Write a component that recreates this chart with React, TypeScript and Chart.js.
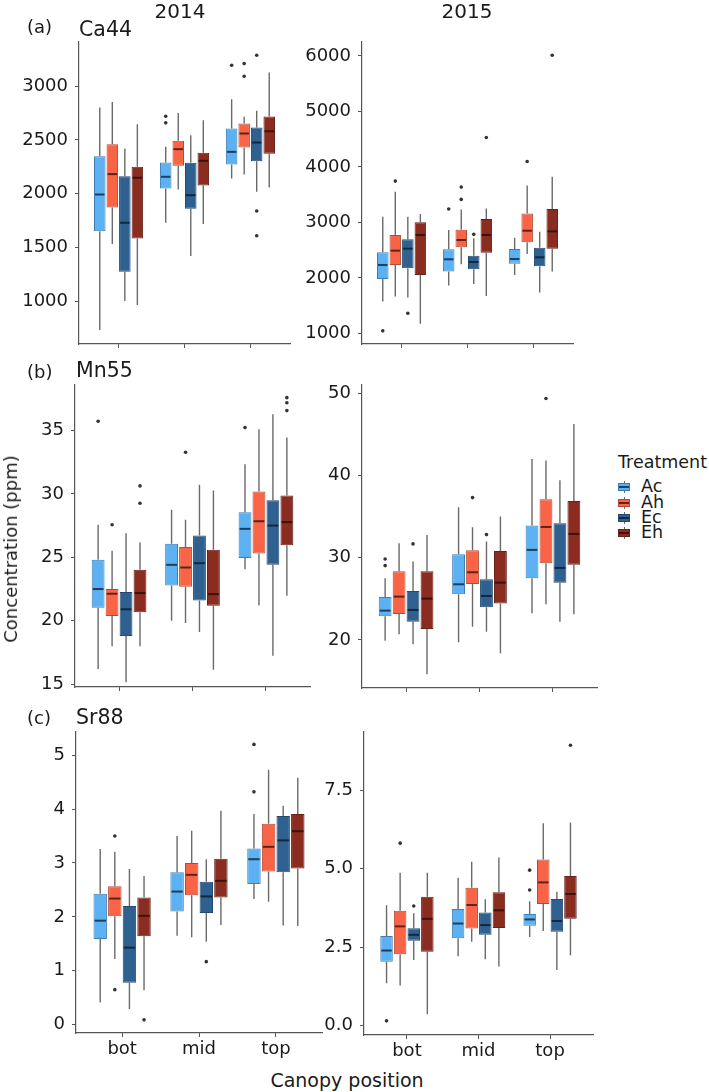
import React, { useEffect, useRef } from 'react';
import { Chart, registerables } from 'chart.js';

Chart.register(...registerables);

// ---------- categories ----------
const positions = ['bot', 'mid', 'top'];
const treatments = ['Ac', 'Ah', 'Ec', 'Eh'];

const fillColors = ['#5BB1F2', '#FA6446', '#2E6190', '#8B2C21'];
const borderColors = ['#3F7EB3', '#B24A37', '#234A6E', '#66211A'];
const medianColors = ['#1F3F5C', '#5E2419', '#12283D', '#3B120D'];

// ---------- Ca44 2014 (rows: Ac, Ah, Ec, Eh; cols: bot, mid, top) ----------
const ca14Low = [[731, 1729, 2141], [1531, 2039, 2179], [1000, 1419, 2017], [963, 1717, 2058]];
const ca14Q1 = [[1651, 2048, 2271], [1872, 2259, 2430], [1273, 1859, 2302], [1583, 2076, 2371]];
const ca14Med = [[1992, 2157, 2389], [2182, 2414, 2560], [1729, 1986, 2476], [2148, 2306, 2581]];
const ca14Q3 = [[2349, 2290, 2606], [2461, 2492, 2653], [2163, 2287, 2616], [2250, 2380, 2718]];
const ca14High = [[2802, 2436, 2879], [2854, 2752, 2715], [2420, 2544, 2771], [2647, 2684, 3127]];
const ca14Out = [[[], [2721, 2659], [3195]], [[], [], [3211, 3093]], [[], [], [3288, 1838, 1608]], [[], [], []]];

// ---------- Ca44 2015 ----------
const ca15Low = [[1572, 1860, 2052], [1662, 2244, 2430], [1644, 1890, 1734], [1170, 1674, 2112]];
const ca15Q1 = [[1980, 2112, 2256], [2232, 2550, 2640], [2172, 2154, 2208], [2052, 2454, 2526]];
const ca15Med = [[2232, 2334, 2340], [2490, 2682, 2850], [2526, 2286, 2370], [2772, 2772, 2838]];
const ca15Q3 = [[2460, 2514, 2520], [2772, 2868, 3162], [2694, 2400, 2544], [3000, 3060, 3240]];
const ca15High = [[3102, 2862, 2724], [3552, 3234, 3666], [3102, 2712, 2832], [3150, 3252, 3822]];
const ca15Out = [[[1044], [3240], []], [[3744], [3636, 3414], [4098]], [[1362], [2784], []], [[], [4530], [6012]]];

// ---------- Mn55 2014 ----------
const mn14Low = [[16.19, 20.0, 24.07], [17.98, 19.82, 21.21], [15.14, 19.11, 17.24], [17.98, 16.14, 21.97]];
const mn14Q1 = [[21.02, 22.78, 24.94], [20.37, 22.68, 25.31], [18.79, 21.6, 24.41], [20.66, 21.18, 25.96]];
const mn14Med = [[22.5, 24.41, 27.25], [22.13, 24.2, 27.85], [20.9, 24.54, 27.51], [22.18, 22.1, 27.78]];
const mn14Q3 = [[24.81, 26.07, 28.56], [22.5, 25.81, 30.19], [22.26, 26.72, 29.51], [24.02, 25.6, 29.88]];
const mn14High = [[27.57, 28.75, 32.35], [25.52, 27.96, 35.1], [26.91, 30.72, 36.29], [26.17, 30.27, 34.45]];
const mn14Out = [[[35.74], [], [35.24]], [[27.57], [33.29], []], [[], [], []], [[30.64, 29.27], [], [37.6, 37.2, 36.58]]];

// ---------- Mn55 2015 ----------
const mn15Low = [[19.92, 19.72, 23.24], [20.69, 21.62, 24.34], [19.47, 21.01, 22.23], [15.83, 18.38, 23.12]];
const mn15Q1 = [[22.88, 25.55, 27.5], [23.16, 26.81, 29.32], [22.23, 23.97, 26.97], [21.34, 24.42, 29.16]];
const mn15Med = [[23.57, 26.77, 30.95], [25.27, 28.23, 33.74], [23.65, 25.35, 28.76], [25.03, 26.97, 32.89]];
const mn15Q3 = [[25.23, 30.42, 33.91], [28.35, 30.91, 37.11], [25.96, 27.38, 34.19], [28.35, 30.83, 36.91]];
const mn15High = [[27.5, 36.14, 42.01], [31.76, 33.7, 41.81], [29.53, 31.96, 39.42], [32.77, 35.0, 46.27]];
const mn15Out = [[[29.85, 29.04], [], []], [[], [37.31], [49.35]], [[31.68], [32.81], []], [[], [], []]];

// ---------- Sr88 2014 ----------
const sr14Low = [[0.41, 1.65, 2.33], [1.22, 1.62, 2.28], [0.29, 1.54, 1.84], [0.64, 1.85, 1.83]];
const sr14Q1 = [[1.59, 2.1, 2.61], [2.01, 2.4, 2.84], [0.78, 2.07, 2.83], [1.64, 2.36, 2.9]];
const sr14Med = [[1.93, 2.47, 3.07], [2.34, 2.78, 3.3], [1.43, 2.38, 3.42], [2.02, 2.67, 3.59]];
const sr14Q3 = [[2.43, 2.83, 3.27], [2.57, 3.0, 3.73], [2.2, 2.65, 3.87], [2.36, 3.08, 3.91]];
const sr14High = [[3.26, 3.5, 3.91], [3.21, 3.6, 4.73], [2.89, 3.07, 4.06], [2.76, 3.97, 4.58]];
const sr14Out = [[[], [], [5.2, 4.32]], [[3.5, 0.65], [], []], [[], [1.17], []], [[0.09], [], []]];

// ---------- Sr88 2015 ----------
const sr15Low = [[1.35, 2.21, 2.82], [1.28, 2.67, 3.01], [2.09, 2.11, 1.77], [0.36, 1.88, 2.24]];
const sr15Q1 = [[2.03, 2.78, 3.18], [2.27, 3.09, 3.87], [2.7, 2.89, 2.99], [2.35, 3.11, 3.4]];
const sr15Med = [[2.39, 3.25, 3.38], [3.16, 3.84, 4.56], [2.89, 3.2, 3.33], [3.4, 3.67, 4.19]];
const sr15Q3 = [[2.85, 3.71, 3.55], [3.66, 4.39, 5.29], [3.1, 3.6, 4.03], [4.1, 4.25, 4.76]];
const sr15High = [[3.83, 4.71, 3.96], [4.87, 5.22, 6.44], [3.58, 4.02, 4.26], [4.87, 5.35, 6.47]];
const sr15Out = [[[0.15], [], [4.95, 4.32]], [[5.81], [], []], [[3.81], [], []], [[], [], [8.93]]];

// ---------- y tick labels ----------
const ca14Ticks = [1000, 1500, 2000, 2500, 3000];
const ca15Ticks = [1000, 2000, 3000, 4000, 5000, 6000];
const mn14Ticks = [15, 20, 25, 30, 35];
const mn15Ticks = [20, 30, 40, 50];
const sr14Ticks = [0, 1, 2, 3, 4, 5];
const sr15Ticks = [0, 2.5, 5, 7.5];

const FONT = "'DejaVu Sans', sans-serif";
const TEXT = '#1a1a1a';
const AXIS = '#555555';
const WHISKER = '#6a6a6a';
const OUTLIER = '#333333';

const YW = 72;
const XH = 30;
const PT = 24;
const PR = 4;

type Panel = {
  low: number[][]; q1: number[][]; med: number[][]; q3: number[][]; high: number[][]; out: number[][][];
  yMin: number; yMax: number; yTicks: number[]; decimals: number;
  left: number; right: number; top: number; bottom: number; showX: boolean;
};

const panels: Panel[] = [
  { low: ca14Low, q1: ca14Q1, med: ca14Med, q3: ca14Q3, high: ca14High, out: ca14Out, yMin: 600, yMax: 3412, yTicks: ca14Ticks, decimals: 0, left: 79, right: 290, top: 42, bottom: 344, showX: false },
  { low: ca15Low, q1: ca15Q1, med: ca15Med, q3: ca15Q3, high: ca15High, out: ca15Out, yMin: 807, yMax: 6252, yTicks: ca15Ticks, decimals: 0, left: 362, right: 573, top: 42, bottom: 344, showX: false },
  { low: mn14Low, q1: mn14Q1, med: mn14Med, q3: mn14Q3, high: mn14High, out: mn14Out, yMin: 14.77, yMax: 38.6, yTicks: mn14Ticks, decimals: 0, left: 75, right: 310, top: 385, bottom: 687, showX: false },
  { low: mn15Low, q1: mn15Q1, med: mn15Med, q3: mn15Q3, high: mn15High, out: mn15Out, yMin: 14.16, yMax: 51.0, yTicks: mn15Ticks, decimals: 0, left: 362, right: 597, top: 385, bottom: 688, showX: false },
  { low: sr14Low, q1: sr14Q1, med: sr14Med, q3: sr14Q3, high: sr14High, out: sr14Out, yMin: -0.154, yMax: 5.43, yTicks: sr14Ticks, decimals: 0, left: 76, right: 322, top: 732, bottom: 1033, showX: true },
  { low: sr15Low, q1: sr15Q1, med: sr15Med, q3: sr15Q3, high: sr15High, out: sr15Out, yMin: -0.3, yMax: 9.35, yTicks: sr15Ticks, decimals: 1, left: 364, right: 593, top: 732, bottom: 1035, showX: true },
];

function BoxPanel({ p }: { p: Panel }) {
  const ref = useRef<HTMLCanvasElement>(null);
  const W = YW + (p.right - p.left) + PR;
  const H = PT + (p.bottom - p.top) + XH;

  useEffect(() => {
    if (!ref.current) return;
    const extras = {
      id: 'boxExtras',
      beforeDatasetsDraw(chart: any) {
        const { ctx } = chart;
        const y = chart.scales.y;
        ctx.save();
        ctx.strokeStyle = WHISKER;
        ctx.lineWidth = 1.4;
        chart.data.datasets.forEach((_: any, i: number) => {
          chart.getDatasetMeta(i).data.forEach((el: any, j: number) => {
            const x = el.x;
            ctx.beginPath();
            ctx.moveTo(x, y.getPixelForValue(p.high[i][j]));
            ctx.lineTo(x, y.getPixelForValue(p.q3[i][j]));
            ctx.moveTo(x, y.getPixelForValue(p.q1[i][j]));
            ctx.lineTo(x, y.getPixelForValue(p.low[i][j]));
            ctx.stroke();
          });
        });
        ctx.restore();
      },
      afterDatasetsDraw(chart: any) {
        const { ctx } = chart;
        const y = chart.scales.y;
        ctx.save();
        chart.data.datasets.forEach((_: any, i: number) => {
          chart.getDatasetMeta(i).data.forEach((el: any, j: number) => {
            const x = el.x;
            const w = el.width;
            const ym = y.getPixelForValue(p.med[i][j]);
            ctx.strokeStyle = medianColors[i];
            ctx.lineWidth = 2;
            ctx.beginPath();
            ctx.moveTo(x - w / 2 + 1, ym);
            ctx.lineTo(x + w / 2 - 1, ym);
            ctx.stroke();
            ctx.fillStyle = OUTLIER;
            p.out[i][j].forEach((v) => {
              ctx.beginPath();
              ctx.arc(x, y.getPixelForValue(v), 1.8, 0, Math.PI * 2);
              ctx.fill();
            });
          });
        });
        ctx.restore();
      },
    };

    const tickFont = { family: FONT, size: 18 };
    const chart = new Chart(ref.current, {
      type: 'bar',
      data: {
        datasets: treatments.map((t, i) => ({
          label: t,
          data: positions.map((_, j) => ({ x: j + 1, y: [p.q1[i][j], p.q3[i][j]] })),
          backgroundColor: fillColors[i],
          borderColor: borderColors[i],
          borderWidth: 1,
          borderSkipped: false,
          categoryPercentage: 0.76,
          barPercentage: 0.92,
        })) as any,
      },
      options: {
        animation: false,
        responsive: false,
        events: [],
        layout: { padding: { top: PT, right: PR, left: 0, bottom: 0 } },
        plugins: { legend: { display: false }, tooltip: { enabled: false } },
        scales: {
          x: {
            type: 'linear',
            offset: false,
            min: 0.4,
            max: 3.6,
            afterBuildTicks: (s: any) => { s.ticks = positions.map((_, j) => ({ value: j + 1 })); },
            afterFit: (s: any) => { s.height = XH; },
            ticks: {
              display: p.showX,
              font: tickFont,
              color: TEXT,
              padding: 2,
              callback: (v: any) => positions[Math.round(Number(v)) - 1] ?? '',
            },
            grid: { display: true, offset: false, drawOnChartArea: false, drawTicks: true, tickLength: 4, color: AXIS, lineWidth: 1 },
            border: { display: true, color: AXIS, width: 1.2 },
          },
          y: {
            type: 'linear',
            min: p.yMin,
            max: p.yMax,
            afterBuildTicks: (s: any) => { s.ticks = p.yTicks.map((v) => ({ value: v })); },
            afterFit: (s: any) => { s.width = YW; },
            ticks: {
              font: tickFont,
              color: TEXT,
              padding: 7,
              callback: (v: any) => Number(v).toFixed(p.decimals),
            },
            grid: { display: true, drawOnChartArea: false, drawTicks: true, tickLength: 4, color: AXIS, lineWidth: 1 },
            border: { display: true, color: AXIS, width: 1.2 },
          },
        },
      } as any,
      plugins: [extras],
    });
    return () => chart.destroy();
  }, []);

  return (
    <canvas
      ref={ref}
      width={W}
      height={H}
      style={{ position: 'absolute', left: p.left - YW, top: p.top - PT, width: W, height: H }}
    />
  );
}

function Txt({ x, y, size, children, center }: { x: number; y: number; size: number; children: any; center?: boolean }) {
  return (
    <div
      style={{
        position: 'absolute',
        left: x,
        top: y,
        transform: center ? 'translate(-50%, -50%)' : 'translate(0, -50%)',
        fontFamily: FONT,
        fontSize: size,
        lineHeight: 1,
        color: TEXT,
        whiteSpace: 'nowrap',
      }}
    >
      {children}
    </div>
  );
}

function LegendKey({ i, y }: { i: number; y: number }) {
  return (
    <div style={{ position: 'absolute', left: 618, top: y - 6, width: 12, height: 12 }}>
      <div style={{ position: 'absolute', left: 5.5, top: 0, width: 1, height: 12, background: WHISKER }} />
      <div
        style={{
          position: 'absolute', left: 0, top: 2, width: 12, height: 8, boxSizing: 'border-box',
          background: fillColors[i], border: `1px solid ${borderColors[i]}`,
        }}
      />
      <div style={{ position: 'absolute', left: 1, top: 5, width: 10, height: 2, background: medianColors[i] }} />
    </div>
  );
}

export default function App() {
  const legendRows = [487, 503, 518, 533];
  return (
    <div style={{ position: 'absolute', left: 0, top: 0, width: 709, height: 1092, background: '#ffffff', overflow: 'hidden' }}>
      {panels.map((p, k) => <BoxPanel key={k} p={p} />)}

      <Txt x={180} y={11} size={20} center>2014</Txt>
      <Txt x={467} y={11} size={20} center>2015</Txt>

      <Txt x={27} y={27} size={18}>(a)</Txt>
      <Txt x={79} y={29} size={20.5}>Ca44</Txt>
      <Txt x={27} y={372} size={18}>(b)</Txt>
      <Txt x={76} y={370} size={20.5}>Mn55</Txt>
      <Txt x={27} y={718} size={18}>(c)</Txt>
      <Txt x={76} y={717} size={20.5}>Sr88</Txt>

      <div
        style={{
          position: 'absolute', left: 11, top: 549, transform: 'translate(-50%, -50%) rotate(-90deg)',
          fontFamily: FONT, fontSize: 18, lineHeight: 1, color: TEXT, whiteSpace: 'nowrap',
        }}
      >
        Concentration (ppm)
      </div>
      <Txt x={347} y={1080} size={19} center>Canopy position</Txt>

      <Txt x={618} y={463} size={17.5}>Treatment</Txt>
      {treatments.map((t, i) => (
        <React.Fragment key={t}>
          <LegendKey i={i} y={legendRows[i]} />
          <Txt x={641} y={legendRows[i]} size={17.5}>{t}</Txt>
        </React.Fragment>
      ))}
    </div>
  );
}
